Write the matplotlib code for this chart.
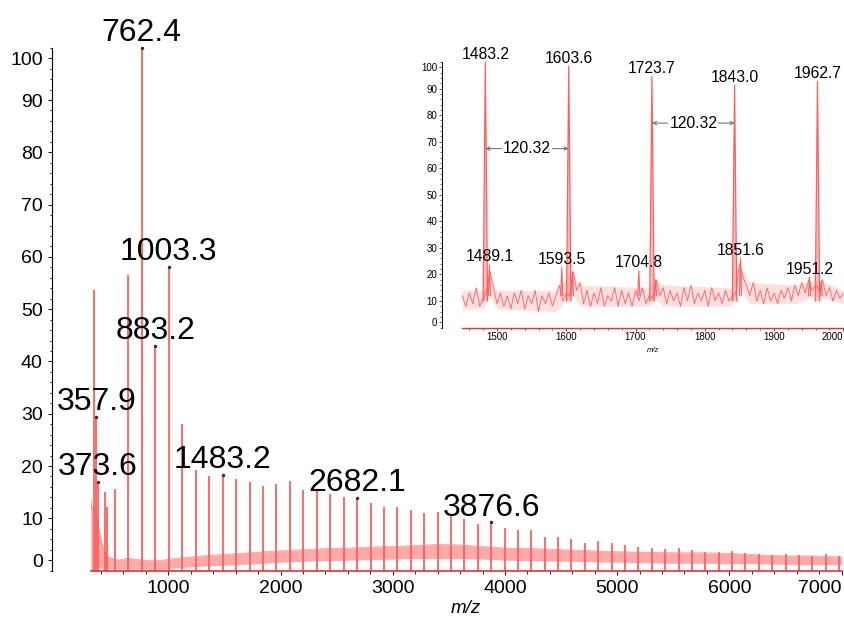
import matplotlib
matplotlib.use("Agg")
import matplotlib.pyplot as plt

plt.rcParams['font.family'] = ['Liberation Sans', 'DejaVu Sans']

# ---- main spectrum (m/z, relative intensity %) ----
main_mz = [341.0, 357.9, 373.6, 437.0, 451.0, 525.0, 642.1, 762.4, 883.2, 1003.3,
           1123.6, 1243.9, 1363.6, 1483.2, 1603.6, 1723.7, 1843.0, 1962.7, 2082.5,
           2202.3, 2322.1, 2441.9, 2562.0, 2682.1, 2801.6, 2921.1, 3040.5, 3160.0,
           3279.4, 3398.9, 3518.3, 3637.8, 3757.2, 3876.6, 3995.9, 4115.2, 4234.5,
           4353.8, 4473.1, 4592.4, 4711.7, 4831.0, 4950.3, 5069.6, 5188.9, 5308.2,
           5427.5, 5546.8, 5666.1, 5785.4, 5904.7, 6024.0, 6143.3, 6262.6, 6381.9,
           6501.2, 6620.5, 6739.8, 6859.1, 6978.4]
main_h = [53.7, 29.4, 16.9, 15.1, 12.2, 15.6, 56.5, 100.0, 43.0, 58.1,
          28.0, 19.2, 18.1, 18.3, 17.5, 17.0, 16.2, 16.6, 17.2,
          15.4, 15.2, 14.6, 14.1, 13.9, 13.0, 12.1, 12.2, 11.5,
          11.1, 11.2, 10.4, 9.8, 9.0, 9.2, 8.2, 7.8, 7.8,
          6.5, 6.5, 6.0, 5.2, 5.7, 5.2, 4.8, 4.6, 4.3,
          4.1, 4.3, 3.9, 3.6, 3.6, 3.8, 3.3, 3.2, 3.0,
          3.1, 2.9, 2.8, 3.2, 2.7]

# noise band of the main spectrum
base_mz = [308, 320, 335, 350, 365, 380, 395, 410, 430, 460, 500, 560, 640, 720,
           820, 920, 1050, 1200, 1350, 1500, 1650, 1800, 2000, 2200, 2400, 2600,
           2800, 3000, 3200, 3400, 3600, 3800, 4000, 4250, 4500, 4750, 5000, 5250,
           5500, 5750, 6000, 6250, 6500, 6750, 7000]
base_lo = [0.0, 0.2, 0.3, 0.5, 0.6, 0.6, 0.5, 0.5, 0.4, 0.4, 0.3, 0.3, 0.3, 0.3,
           0.3, 0.2, 0.5, 0.7, 0.9, 1.0, 1.2, 1.3, 1.6, 1.8, 1.9, 2.0,
           2.1, 2.2, 2.3, 2.3, 2.3, 2.2, 2.0, 1.9, 1.8, 1.7, 1.6, 1.5,
           1.4, 1.4, 1.3, 1.3, 1.2, 1.2, 1.1]
base_hi = [14.0, 11.5, 12.5, 11.0, 9.5, 8.0, 6.5, 5.0, 3.6, 2.7, 2.3, 2.0, 2.4, 2.1,
           1.9, 1.9, 2.3, 2.6, 2.9, 3.1, 3.3, 3.5, 3.8, 4.0, 4.2, 4.3,
           4.5, 4.6, 4.8, 5.0, 4.9, 4.6, 4.3, 4.2, 4.0, 3.8, 3.6, 3.5,
           3.4, 3.4, 3.3, 3.0, 2.8, 2.8, 2.6]

lab_mz = [357.9, 373.6, 762.4, 883.2, 1003.3, 1483.2, 2682.1, 3876.6]
lab_h = [29.4, 16.9, 100.0, 43.0, 58.1, 18.3, 13.9, 9.2]
lab_txt = ["357.9", "373.6", "762.4", "883.2", "1003.3", "1483.2", "2682.1", "3876.6"]

# ---- inset (zoom 1450-2000) ----
ins_mz = [1483.2, 1603.6, 1723.7, 1843.0, 1962.7]
ins_h = [100.0, 98.4, 94.6, 91.2, 92.8]
sat_mz = [1489.1, 1593.5, 1704.8, 1851.6, 1951.2, 1609.0, 1729.0, 1968.0]
sat_h = [23.6, 22.7, 21.4, 26.0, 19.0, 21.0, 18.0, 17.5]
sat_lab = [True, True, True, True, True, False, False, False]

# baseline trace
trace_mz = [1450, 1455, 1460, 1465, 1470, 1475, 1480, 1485, 1490, 1495, 1500,
            1505, 1510, 1515, 1520, 1525, 1530, 1535, 1540, 1545, 1550, 1555,
            1560, 1565, 1570, 1575, 1580, 1585, 1590, 1595, 1600, 1605, 1610,
            1615, 1620, 1625, 1630, 1635, 1640, 1645, 1650, 1655, 1660, 1665,
            1670, 1675, 1680, 1685, 1690, 1695, 1700, 1705, 1710, 1715, 1720,
            1725, 1730, 1735, 1740, 1745, 1750, 1755, 1760, 1765, 1770, 1775,
            1780, 1785, 1790, 1795, 1800, 1805, 1810, 1815, 1820, 1825, 1830,
            1835, 1840, 1845, 1850, 1855, 1860, 1865, 1870, 1875, 1880, 1885,
            1890, 1895, 1900, 1905, 1910, 1915, 1920, 1925, 1930, 1935, 1940,
            1945, 1950, 1955, 1960, 1965, 1970, 1975, 1980, 1985, 1990, 1995, 2000]
trace_y = [12, 8, 13, 9, 15, 8, 11, 14, 21, 15, 9,
           13, 8, 12, 7, 13, 9, 14, 7, 12, 9, 14,
           6, 12, 9, 13, 8, 12, 16, 10, 13, 12, 21,
           14, 17, 9, 14, 8, 13, 9, 15, 8, 12, 10,
           15, 8, 14, 9, 13, 8, 14, 10, 15, 9, 12,
           11, 18, 12, 15, 9, 14, 10, 13, 8, 15, 10,
           16, 9, 13, 10, 14, 8, 15, 10, 13, 9, 14,
           10, 12, 13, 24, 19, 16, 12, 17, 10, 14, 9,
           15, 10, 13, 9, 14, 11, 15, 10, 16, 12, 17,
           13, 18, 14, 16, 14, 18, 12, 15, 10, 14, 11, 13]
# noise envelope of the inset
env_mz = [1450, 1480, 1487, 1495, 1500, 1585, 1595, 1607, 1620, 1720, 1728, 1740,
          1838, 1850, 1865, 1930, 1960, 1972, 2000]
env_lo = [7, 7, 13, 9, 7, 6, 9, 13, 8, 8, 11, 8, 8, 15, 9, 9, 12, 11, 9]
env_hi = [14, 14, 22, 16, 14, 14, 17, 21, 16, 15, 18, 16, 15, 24, 17, 16, 18, 17, 14]

gap_a = [1483.2, 1723.7]
gap_b = [1603.6, 1843.0]
gap_y = [67.4, 77.0]
gap_txt = ["120.32", "120.32"]

peak_col = "#ff5e5e"
band_col = "#ff8585"

fig = plt.figure(figsize=(8.44, 6.19), dpi=100)

# ================= main axes =================
ax = fig.add_axes([0.1075, 0.0782, 0.8896, 0.8447])
ax.fill_between(base_mz, base_lo, base_hi, color=band_col, alpha=0.7, lw=0)
ax.plot(base_mz, base_hi, color=peak_col, lw=0.5, alpha=0.7)
ax.vlines(main_mz, 0, main_h, color=peak_col, lw=1.3, clip_on=False)
ax.plot(lab_mz, lab_h, ls="none", marker="o", ms=1.5, color="#333333", clip_on=False)
for m, h, t in zip(lab_mz, lab_h, lab_txt):
    ax.annotate(t, (m, h), xytext=(0, 5), textcoords="offset points",
                ha="center", va="baseline", fontsize=23, zorder=5,
                annotation_clip=False)

ax.set_xlim(308, 7000)
ax.set_ylim(0, 100)
ax.spines["top"].set_visible(False)
ax.spines["right"].set_visible(False)
ax.spines["left"].set_position(("outward", 28))
ax.spines["bottom"].set_color("#cc3b3b")
ax.spines["bottom"].set_linewidth(1.2)

ax.set_xticks([1000, 2000, 3000, 4000, 5000, 6000, 7000])
ax.set_xticks(range(400, 7001, 200), minor=True)
ax.set_yticks([2, 10, 20, 30, 40, 50, 60, 70, 80, 90, 98])
ax.set_yticklabels(["0", "10", "20", "30", "40", "50", "60", "70", "80", "90", "100"])
ax.set_yticks(range(0, 101, 2), minor=True)
ax.tick_params(axis="both", which="major", labelsize=14, direction="out",
               length=3, width=0.8, color="#222222")
ax.tick_params(axis="both", which="minor", direction="out", length=1.8,
               width=0.7, color="#222222")
ax.tick_params(axis="x", which="both", pad=4)
ax.tick_params(axis="y", which="major", pad=3.5)
ax.get_xticklabels()[-1].set_horizontalalignment("right")
ax.set_xlabel("m/z", style="italic", fontsize=13.5, labelpad=2)

# ================= inset =================
ins = fig.add_axes([0.5478, 0.4709, 0.4514, 0.4289])
ins.fill_between(env_mz, env_lo, env_hi, color=band_col, alpha=0.25, lw=0)
ins.plot(trace_mz, trace_y, color=peak_col, lw=0.7, alpha=0.9)
for m, h in zip(ins_mz, ins_h):
    ins.fill([m - 3.2, m, m + 3.2], [10, h, 10], color=band_col, alpha=0.5, lw=0,
             clip_on=False)
    ins.plot([m - 3.2, m, m + 3.2], [10, h, 10], color=peak_col, lw=0.9,
             clip_on=False)
for m, h in zip(sat_mz, sat_h):
    ins.plot([m - 1.5, m, m + 1.5], [12, h, 12], color=peak_col, lw=0.8)

for m, h in zip(ins_mz, ins_h):
    ins.annotate(f"{m:.1f}", (m, h), xytext=(0, 2.5), textcoords="offset points",
                 ha="center", va="baseline", fontsize=11.3, annotation_clip=False)
for m, h, show in zip(sat_mz, sat_h, sat_lab):
    if show:
        ins.annotate(f"{m:.1f}", (m, h), xytext=(0, 2.5), textcoords="offset points",
                     ha="center", va="baseline", fontsize=11.3, zorder=5)

for a, b, y, t in zip(gap_a, gap_b, gap_y, gap_txt):
    ins.annotate("", xy=(a, y), xytext=(b, y),
                 arrowprops=dict(arrowstyle="<->", color="#777777", lw=0.8,
                                 shrinkA=0, shrinkB=0, mutation_scale=6))
    ins.text((a + b) / 2, y, t, ha="center", va="center", fontsize=11.3,
             bbox=dict(fc="white", ec="none", pad=0.6), zorder=6)

ins.set_xlim(1450, 2000)
ins.set_ylim(0, 100)
ins.spines["top"].set_visible(False)
ins.spines["right"].set_visible(False)
ins.spines["left"].set_position(("outward", 14.4))
ins.spines["left"].set_linewidth(0.7)
ins.spines["bottom"].set_color("#cc3b3b")
ins.spines["bottom"].set_linewidth(1.0)
ins.set_xticks([1500, 1600, 1700, 1800, 1900, 2000])
ins.set_xticks(range(1460, 2001, 20), minor=True)
ins.set_yticks([2, 10, 20, 30, 40, 50, 60, 70, 80, 90, 98])
ins.set_yticklabels(["0", "10", "20", "30", "40", "50", "60", "70", "80", "90", "100"])
ins.set_yticks(range(0, 101, 2), minor=True)
ins.tick_params(axis="both", which="major", labelsize=7, direction="out",
                length=2, width=0.6, pad=1.5, color="#333333")
ins.tick_params(axis="both", which="minor", direction="out", length=1.2,
                width=0.5, color="#333333")
ins.get_xticklabels()[-1].set_horizontalalignment("right")
ins.set_xlabel("m/z", style="italic", fontsize=5.5, labelpad=3)

fig.savefig("out.png", dpi=100)
